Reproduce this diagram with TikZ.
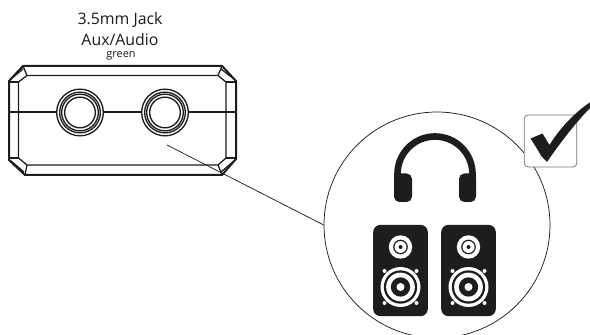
\documentclass[tikz,border=0pt]{standalone}
\usepackage{fontspec}
\setmainfont{Open Sans}
\usetikzlibrary{calc}
\definecolor{ink}{HTML}{1E1C1D}
\tikzset{
  x=0.75pt,y=-0.75pt,
  panel/.style={draw=ink,line width=0.95pt,line join=round},
  heavypanel/.style={draw=ink,line width=1.5pt,line join=round},
  jackring/.style={circle,draw=ink,fill=white,line width=1pt,inner sep=0pt,minimum size=#1},
  disc/.style={circle,fill=#1,draw=none,inner sep=0pt},
  lab/.style={inner sep=0pt,text=ink,align=center},
}
\begin{document}
\begin{tikzpicture}
\useasboundingbox (0,0) rectangle (590,335);
\clip (0,0) rectangle (590,335);
\fill[white] (0,0) rectangle (590,335);
% labels
\node[lab,font=\fontsize{11.9pt}{13pt}\selectfont] (t1) at (120,19.5) {3.5mm Jack};
\node[lab,font=\fontsize{11.9pt}{13pt}\selectfont] (t2) at (120,39.5) {Aux/Audio};
\node[lab,font=\fontsize{8.2pt}{9pt}\selectfont] (t3) at (121,55.5) {green};
% jack panel
\draw[heavypanel] (23,66) -- (222,66) -- (236,81) -- (236,159) -- (222,175) -- (25,175) -- (9,160) -- (9,81) -- cycle;
\draw[panel] (27,75.5) -- (218,75.5) -- (226,82) -- (226,158) -- (218,165) -- (27,165) -- (18.5,158) -- (18.5,82) -- cycle;
\draw[panel] (23,66) -- (27,75.5) (222,66) -- (218,75.5) (222,175) -- (218,165) (25,175) -- (27,165);
\draw[panel] (10,82) -- (18.5,82) (236,82) -- (226,82) (10,158) -- (18.5,158) (236,158) -- (226,158);
\draw[panel] (11,79) -- (23,69) (234,79) -- (221,69) (11,161) -- (24,172) (234,161) -- (221,172);
\draw[heavypanel] (10,112.5) -- (236,112.5);
\foreach \n/\cx in {jackA/80,jackB/165}{
  \node[jackring=35pt] (\n) at (\cx,112.5) {};
  \node[jackring=30.5pt] at (\cx,112.5) {};
  \node[jackring=27.5pt] at (\cx,112.5) {};
  \node[jackring=23pt] at (\cx,112.5) {};
}
% large circle and leader
\node[circle,draw=ink,line width=0.55pt,fill=white,inner sep=0pt,minimum size=169.5pt] (lens) at (437,225) {};
\coordinate (leadstart) at (167,145);
\draw[draw=ink,line width=0.55pt] (leadstart) -- (lens.180);
% checkbox
\node[draw=ink!60,line width=0.6pt,rounded corners=3pt,fill=white,inner sep=0pt,minimum width=39.5pt,minimum height=39pt] (checkbox) at (550.5,141) {};
\fill[ink] (530.5,138.5) -- (542.5,133.5) -- (549.5,145) .. controls (560,128) and (575,112) .. (592,101) -- (592,106) .. controls (576,122) and (560,143) .. (547,162) -- (541.5,156.5) .. controls (538,150) and (534,144) .. (530.5,138.5) -- cycle;
% headphones
\draw[ink,line width=5pt] (397.5,180) -- (397.5,174) arc[start angle=180,end angle=360,radius=37.5] -- (472.5,180);
\fill[ink,rounded corners=4pt] (394,173.5) -- (412,173.5) -- (412,202) -- (394,202) -- cycle;
\fill[ink,rounded corners=4pt] (459,173.5) -- (476,173.5) -- (476,202) -- (459,202) -- cycle;
% speakers
\foreach \s/\cx in {spL/400.5,spR/468.5}{
  \node[fill=ink,rounded corners=5.5pt,inner sep=0pt,minimum width=41pt,minimum height=68.5pt] (\s) at (\cx,270.5) {};
  \node[disc=white,minimum size=17.5pt] at (\cx,247) {};
  \node[disc=ink,minimum size=11pt] at (\cx,247) {};
  \node[disc=white,minimum size=9pt] at (\cx,247) {};
  \node[disc=ink,minimum size=3pt] at (\cx,247) {};
  \node[disc=white,minimum size=30pt] at (\cx,287) {};
  \node[disc=ink,minimum size=25pt] at (\cx,287) {};
  \node[disc=white,minimum size=21.5pt] at (\cx,287) {};
  \node[disc=ink,minimum size=14.5pt] at (\cx,287) {};
  \node[disc=white,minimum size=6pt] at (\cx,287) {};
  \foreach \dx/\dy in {-16/-16,16/-16,-16/16,16/16}
    \node[disc=white,minimum size=3pt] at ($(\cx,287)+(\dx,\dy)$) {};
}
\end{tikzpicture}
\end{document}
